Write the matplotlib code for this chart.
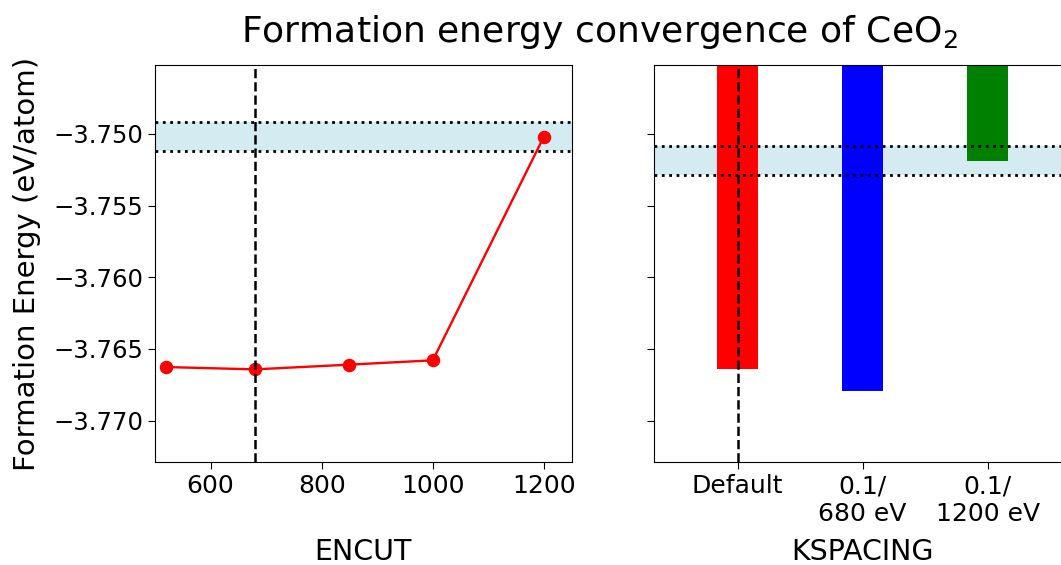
import matplotlib
matplotlib.use("Agg")
import matplotlib.pyplot as plt

# ENCUT convergence (eV/atom)
encut = [520, 680, 850, 1000, 1200]
encut_energy = [-3.76626, -3.76642, -3.76609, -3.76579, -3.75019]
encut_chosen = 680

# KSPACING convergence
kspacing_labels = ["Default", "0.1/\n680 eV", "0.1/\n1200 eV"]
kspacing_energy = [-3.76637, -3.76792, -3.75186]
kspacing_colors = ["red", "blue", "green"]

tol = 0.001  # +/- 1 meV/atom window around the reference value

fig = plt.figure(figsize=(10.61, 5.65), dpi=100)
W, H = 1061, 565
ax1 = fig.add_axes([155 / W, (565 - 462.3) / H, 416.7 / W, 397.3 / H])
ax2 = fig.add_axes([654.3 / W, (565 - 462.3) / H, 416.7 / W, 397.3 / H], sharey=ax1)

# left: ENCUT
ref1 = encut_energy[-1]
ax1.axhspan(ref1 - tol, ref1 + tol, color="lightblue", alpha=0.5, lw=0)
ax1.axhline(ref1 - tol, color="k", ls=":", lw=2)
ax1.axhline(ref1 + tol, color="k", ls=":", lw=2)
ax1.plot(encut, encut_energy, "o-", color="red", lw=1.7, ms=8.7)
ax1.axvline(encut_chosen, color="k", ls="--", lw=1.8)
ax1.set_xlim(500, 1250)
ax1.set_ylim(-3.7729, -3.7452)
ax1.set_xticks([600, 800, 1000, 1200])
ax1.set_yticks([-3.770, -3.765, -3.760, -3.755, -3.750])
ax1.set_xlabel("ENCUT", fontsize=20.5)
ax1.xaxis.set_label_coords(0.5, -0.1895)
ax1.set_ylabel("Formation Energy (eV/atom)", fontsize=21)
ax1.yaxis.set_label_coords(-0.2736, 0.5)

# right: KSPACING
x = range(len(kspacing_labels))
ref2 = kspacing_energy[-1]
ax2.axhspan(ref2 - tol, ref2 + tol, color="lightblue", alpha=0.5, lw=0)
ax2.axhline(ref2 - tol, color="k", ls=":", lw=2)
ax2.axhline(ref2 + tol, color="k", ls=":", lw=2)
ax2.bar(x, kspacing_energy, width=1 / 3, color=kspacing_colors)
ax2.axvline(0, color="k", ls="--", lw=1.8)
ax2.set_xlim(-2 / 3, 8 / 3)
ax2.set_xticks(list(x))
ax2.set_xticklabels(kspacing_labels)
ax2.tick_params(axis="y", labelleft=False)
ax2.set_xlabel("KSPACING", fontsize=20.5)
ax2.xaxis.set_label_coords(0.5, -0.1915)

for ax in (ax1, ax2):
    ax.tick_params(length=5)
    ax.tick_params(axis="x", labelsize=18)
    ax.tick_params(axis="y", labelsize=17.5)

fig.suptitle("Formation energy convergence of CeO$_2$", fontsize=26,
             x=599 / W, y=1 - 42 / H, va="baseline")

fig.savefig("out.png", dpi=100)
